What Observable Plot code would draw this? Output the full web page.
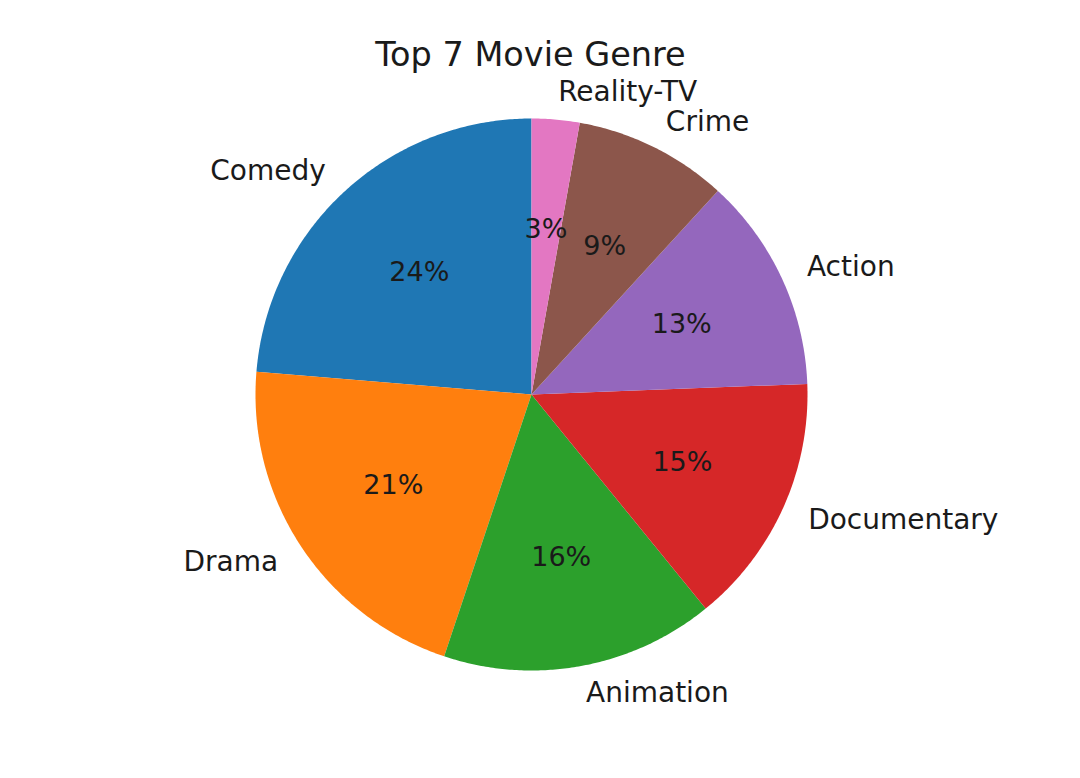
<!DOCTYPE html>
<html>
<head>
<meta charset="utf-8">
<script src="https://cdn.jsdelivr.net/npm/d3@7"></script>
<script src="https://cdn.jsdelivr.net/npm/@observablehq/plot@0.6"></script>
<style>
  html, body { margin: 0; padding: 0; background: #fff; }
</style>
</head>
<body>
<div id="chart"></div>
<script>
// Data (share of each genre, percent)
const genres = ["Comedy", "Drama", "Animation", "Documentary", "Action", "Crime", "Reality-TV"];
const shares = [23.7, 21.2, 16.0, 14.75, 12.6, 9.0, 2.8];
const colors = ["#1f77b4", "#ff7f0e", "#2ca02c", "#d62728", "#9467bd", "#8c564b", "#e377c2"];
const title = "Top 7 Movie Genre";

// Build wedges: start at 90°, counterclockwise (matplotlib style)
const total = d3.sum(shares);
const wedgePoints = [];
const labels = [];
let a = 90;
genres.forEach((g, i) => {
  const span = shares[i] / total * 360;
  const a0 = a, a1 = a + span;
  wedgePoints.push({genre: g, x: 0, y: 0});
  const n = Math.max(2, Math.ceil(span / 0.5));
  for (let k = 0; k <= n; k++) {
    const t = (a0 + (a1 - a0) * k / n) * Math.PI / 180;
    wedgePoints.push({genre: g, x: Math.cos(t), y: Math.sin(t)});
  }
  wedgePoints.push({genre: g, x: 0, y: 0});
  const mid = (a0 + a1) / 2 * Math.PI / 180;
  labels.push({
    genre: g,
    lx: 1.1 * Math.cos(mid), ly: 1.1 * Math.sin(mid),
    px: 0.6 * Math.cos(mid), py: 0.6 * Math.sin(mid),
    pct: Math.round(shares[i] / total * 100) + "%"
  });
  a = a1;
});

const cx = 531, cy = 394, R = 276;
const font = "DejaVu Sans, sans-serif";

const chart = Plot.plot({
  width: 1080,
  height: 778,
  margin: 0,
  x: {domain: [-1, 1], range: [cx - R, cx + R], axis: null},
  y: {domain: [-1, 1], range: [cy + R, cy - R], axis: null},
  color: {domain: genres, range: colors},
  style: {fontFamily: font, background: "#fff", color: "#000"},
  marks: [
    Plot.line(wedgePoints, {x: "x", y: "y", z: "genre", fill: "genre", stroke: "none", curve: "linear-closed"}),
    Plot.text(labels.filter(d => d.lx > 0), {x: "lx", y: "ly", text: "genre", textAnchor: "start", fontSize: 28, fill: "#1a1a1a"}),
    Plot.text(labels.filter(d => d.lx <= 0), {x: "lx", y: "ly", text: "genre", textAnchor: "end", fontSize: 28, fill: "#1a1a1a"}),
    Plot.text(labels, {x: "px", y: "py", text: "pct", textAnchor: "middle", fontSize: 27, fill: "#1a1a1a"}),
    Plot.text([title], {frameAnchor: "top", lineAnchor: "middle", dy: 55, dx: -10, text: d => d, fontSize: 33.5, fill: "#1a1a1a"})
  ]
});
document.getElementById("chart").appendChild(chart);
</script>
</body>
</html>
